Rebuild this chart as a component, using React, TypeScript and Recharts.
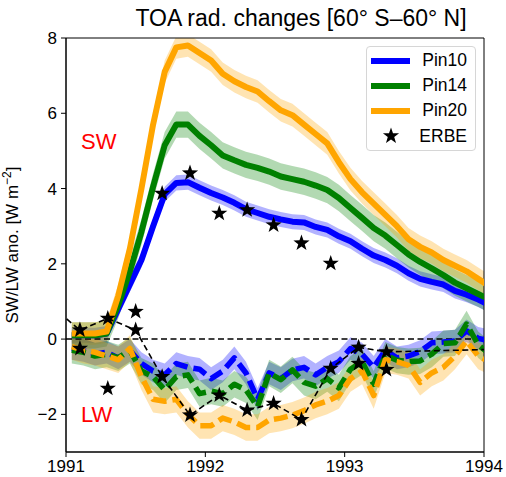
import React from "react"
import {
  Area,
  ComposedChart,
  Legend,
  Line,
  ReferenceArea,
  ReferenceLine,
  Scatter,
  XAxis,
  YAxis,
} from "recharts"

const FONT = "'Liberation Sans', Arial, sans-serif"

// monthly model means, Jan 1991 .. Jan 1994 (mid-month)
const sw10 = [0.1, 0.1, 0.1, 0.15, 0.8, 1.45, 2.1, 3.0, 3.85, 4.15, 4.17, 4.02, 3.88, 3.76, 3.62, 3.45, 3.35, 3.25, 3.18, 3.12, 3.1, 2.98, 2.9, 2.73, 2.6, 2.4, 2.22, 2.1, 1.95, 1.75, 1.6, 1.52, 1.45, 1.28, 1.18, 1.05, 0.9]
const sw14 = [0.1, 0.1, 0.1, 0.15, 0.9, 1.8, 2.85, 4.05, 5.15, 5.7, 5.7, 5.4, 5.15, 4.88, 4.75, 4.63, 4.55, 4.45, 4.32, 4.25, 4.18, 4.08, 3.96, 3.75, 3.48, 3.22, 2.95, 2.75, 2.5, 2.25, 2.05, 1.88, 1.7, 1.5, 1.35, 1.2, 1.05]
const sw20 = [0.15, 0.15, 0.15, 0.2, 1.15, 2.4, 4.0, 5.7, 7.1, 7.75, 7.8, 7.6, 7.4, 7.05, 6.85, 6.7, 6.58, 6.32, 6.08, 5.95, 5.7, 5.45, 5.2, 4.7, 4.25, 3.9, 3.6, 3.3, 3.0, 2.65, 2.45, 2.3, 2.1, 1.95, 1.8, 1.6, 1.4]

const lw10 = [-0.25, -0.3, -0.4, -0.35, -0.5, -0.3, -0.65, -0.85, -0.95, -0.65, -0.75, -0.8, -1.05, -0.85, -0.5, -0.9, -1.6, -0.9, -1.05, -0.82, -0.75, -0.95, -0.75, -0.6, -0.25, -0.4, -0.75, -0.3, -0.5, -0.45, -0.33, -0.1, -0.08, -0.05, 0.22, 0.02, -0.05]
const lw14 = [-0.3, -0.35, -0.45, -0.4, -0.5, -0.3, -0.85, -1.0, -1.35, -1.0, -0.95, -1.45, -1.38, -1.45, -1.2, -1.35, -1.8, -0.9, -1.08, -0.82, -1.15, -1.25, -1.05, -1.3, -0.8, -0.6, -1.2, -0.43, -0.56, -0.6, -0.58, -0.4, -0.12, -0.1, 0.4, -0.15, -0.4]
const lw20 = [-0.2, -0.3, -0.35, -0.45, -0.55, -0.25, -1.0, -1.6, -1.65, -1.6, -2.0, -2.3, -2.3, -2.1, -2.2, -2.35, -2.35, -2.15, -2.1, -2.02, -1.9, -1.75, -1.65, -1.5, -1.05, -0.85, -1.5, -0.55, -0.6, -0.7, -1.15, -0.9, -0.75, -0.45, -0.05, -0.45, -0.6]

// ensemble spread (half width of shading)
const spread = { sw10: 0.2, sw14: 0.35, sw20: 0.3, lw10: 0.3, lw14: 0.35, lw20: 0.35 }

// ERBE observations (72-day sampling)
const erbeT = [1991.1, 1991.3, 1991.5, 1991.69, 1991.89, 1992.1, 1992.3, 1992.49, 1992.69, 1992.9, 1993.1, 1993.3]
const erbeSW = [-0.25, -1.31, 0.73, 3.87, 4.41, 3.34, 3.43, 3.03, 2.55, 2.01, -0.65, -0.81]
const erbeLW = [0.24, 0.55, 0.24, -1.0, -2.02, -1.49, -1.89, -1.71, -2.14, -0.78, -0.22, -0.34]
// dashed LW line runs past the first/last sample
const erbeLineT = [1990.9, ...erbeT, 1994.1]
const erbeLineV = [0.86, ...erbeLW, -0.27]

const xTicks = [1991, 1992, 1993, 1994]
const yTicks = [-2, 0, 2, 4, 6, 8]

const runs = [
  { key: "10", name: "Pin10", color: "#0000ff" },
  { key: "14", name: "Pin14", color: "#008000" },
  { key: "20", name: "Pin20", color: "#ffa500" },
]

const sw = { "10": sw10, "14": sw14, "20": sw20 }
const lw = { "10": lw10, "14": lw14, "20": lw20 }

const monthT = sw10.map((_, i) => 1991 + (i + 0.5) / 12)

const rows = monthT.map((t, i) => {
  const r: any = { t }
  runs.forEach(({ key }) => {
    const s = sw[key][i]
    const l = lw[key][i]
    r["sw" + key] = s
    r["lw" + key] = l
    r["swb" + key] = [s - spread["sw" + key], s + spread["sw" + key]]
    r["lwb" + key] = [l - spread["lw" + key], l + spread["lw" + key]]
  })
  return r
})

const erbeSWData = erbeT.map((t, i) => ({ t, v: erbeSW[i] }))
const erbeLWData = erbeT.map((t, i) => ({ t, v: erbeLW[i] }))
const erbeLine = erbeLineT.map((t, i) => ({ t, v: erbeLineV[i] }))

const starPoints = (cx, cy, R, r) => {
  const pts = []
  for (let k = 0; k < 10; k++) {
    const a = -Math.PI / 2 + (k * Math.PI) / 5
    const rad = k % 2 === 0 ? R : r
    pts.push(`${cx + rad * Math.cos(a)},${cy + rad * Math.sin(a)}`)
  }
  return pts.join(" ")
}

const Star = (props) => {
  const { cx, cy } = props
  if (cx == null || cy == null) return null
  return <polygon points={starPoints(cx, cy, 8.5, 3.4)} fill="#000" />
}

const fmt = (v) => (v < 0 ? "\u2212" + Math.abs(v) : String(v))

const YLabel = () => (
  <text
    x={18}
    y={245}
    transform="rotate(-90 18 245)"
    textAnchor="middle"
    fontSize={17}
    fontFamily={FONT}
    fill="#000"
  >
    SW/LW ano. [W m
    <tspan dy={-7} fontSize={12}>
      {"\u22122"}
    </tspan>
    <tspan dy={7}>]</tspan>
  </text>
)

const LegendBox = () => (
  <div
    style={{
      border: "1px solid #d6d6d6",
      borderRadius: 4,
      background: "rgba(255,255,255,0.85)",
      padding: "1px 8px 1px 4px",
      fontFamily: FONT,
      fontSize: 17.5,
      color: "#000",
      width: 96,
      textAlign: "left",
    }}
  >
    {runs.map((r) => (
      <div key={r.key} style={{ display: "flex", alignItems: "center", height: 25 }}>
        <div style={{ width: 40, height: 6, background: r.color }} />
        <span style={{ marginLeft: 12 }}>{r.name}</span>
      </div>
    ))}
    <div style={{ display: "flex", alignItems: "center", height: 26 }}>
      <svg width={40} height={20}>
        <polygon points={starPoints(20, 10, 8.5, 3.4)} fill="#000" />
      </svg>
      <span style={{ marginLeft: 12 }}>ERBE</span>
    </div>
  </div>
)

const axisText = { fill: "#000", fontSize: 17, fontFamily: FONT }

export default function App() {
  return (
    <div style={{ position: "absolute", left: 0, top: 0, width: 506, height: 477, background: "#fff" }}>
      <div
        style={{
          position: "absolute",
          left: 101,
          top: 5,
          width: 400,
          textAlign: "center",
          fontFamily: FONT,
          fontSize: 23,
          lineHeight: "26px",
          color: "#000",
        }}
      >
        TOA rad. changes [60° S–60° N]
      </div>
      <ComposedChart
        width={506}
        height={477}
        data={rows}
        margin={{ top: 38, right: 22, bottom: 0, left: 0 }}
      >
        <XAxis
          type="number"
          dataKey="t"
          domain={[1991, 1994]}
          ticks={xTicks}
          allowDataOverflow
          height={25}
          tickSize={5}
          tickMargin={3}
          tick={axisText}
          axisLine={{ stroke: "#000" }}
          tickLine={{ stroke: "#000" }}
        />
        <YAxis
          type="number"
          domain={[-3, 8]}
          ticks={yTicks}
          allowDataOverflow
          width={66}
          tickSize={5}
          tickMargin={4}
          tickFormatter={fmt}
          tick={axisText}
          axisLine={{ stroke: "#000" }}
          tickLine={{ stroke: "#000" }}
          label={<YLabel />}
        />
        {runs.map((r) => (
          <Area
            key={"swb" + r.key}
            dataKey={"swb" + r.key}
            stroke="none"
            fill={r.color}
            fillOpacity={0.3}
            isAnimationActive={false}
            legendType="none"
            activeDot={false}
          />
        ))}
        {runs.map((r) => (
          <Area
            key={"lwb" + r.key}
            dataKey={"lwb" + r.key}
            stroke="none"
            fill={r.color}
            fillOpacity={0.3}
            isAnimationActive={false}
            legendType="none"
            activeDot={false}
          />
        ))}
        <ReferenceLine y={0} stroke="#000" strokeWidth={1.5} strokeDasharray="6 3.5" />
        {runs.map((r) => (
          <Line
            key={"sw" + r.key}
            dataKey={"sw" + r.key}
            name={r.name}
            stroke={r.color}
            strokeWidth={6}
            strokeLinejoin="round"
            dot={false}
            activeDot={false}
            isAnimationActive={false}
          />
        ))}
        {runs.map((r) => (
          <Line
            key={"lw" + r.key}
            dataKey={"lw" + r.key}
            stroke={r.color}
            strokeWidth={5.5}
            strokeDasharray="14 6"
            strokeLinejoin="round"
            dot={false}
            activeDot={false}
            legendType="none"
            isAnimationActive={false}
          />
        ))}
        <Line
          data={erbeLine}
          dataKey="v"
          stroke="#000"
          strokeWidth={1.6}
          strokeDasharray="6 3.5"
          dot={false}
          activeDot={false}
          legendType="none"
          isAnimationActive={false}
        />
        <Scatter data={erbeSWData} dataKey="v" name="ERBE" shape={<Star />} isAnimationActive={false} />
        <Scatter data={erbeLWData} dataKey="v" shape={<Star />} legendType="none" isAnimationActive={false} />
        <ReferenceArea
          x1={1991}
          x2={1994}
          y1={-3}
          y2={8}
          fill="none"
          stroke="#000"
          strokeWidth={1}
          fillOpacity={0}
        />
        <Legend
          content={<LegendBox />}
          layout="vertical"
          verticalAlign="middle"
          align="center"
          wrapperStyle={{ position: "absolute", left: 366, top: 46, width: 110 }}
        />
      </ComposedChart>
      <div
        style={{
          position: "absolute",
          left: 81,
          top: 131,
          fontFamily: FONT,
          fontSize: 22,
          lineHeight: "22px",
          color: "#ff0000",
        }}
      >
        SW
      </div>
      <div
        style={{
          position: "absolute",
          left: 81,
          top: 404,
          fontFamily: FONT,
          fontSize: 22,
          lineHeight: "22px",
          color: "#ff0000",
        }}
      >
        LW
      </div>
    </div>
  )
}
